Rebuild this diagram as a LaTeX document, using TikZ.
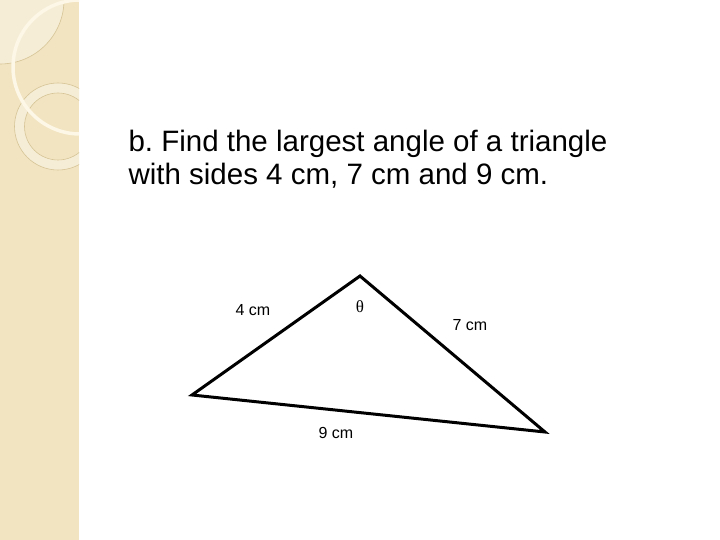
\documentclass[tikz,border=0pt]{standalone}
\usepackage{fontspec}
\setmainfont{Liberation Sans}
\newfontfamily\thetafont{Liberation Serif}
\frenchspacing
\definecolor{bandfill}{RGB}{242,228,193}
\definecolor{bandlight}{RGB}{246,237,214}
\definecolor{bandline}{RGB}{214,196,150}
\definecolor{bandcream}{RGB}{252,247,230}
\tikzset{
  side/.style = {font=\fontsize{16}{18}\selectfont},
  heading/.style = {anchor=base west, font=\fontsize{29.5}{33}\selectfont},
}
\begin{document}
\begin{tikzpicture}[x=1pt, y=-1pt]
	\useasboundingbox (0,0) rectangle (720,540);
	\fill[white] (0,0) rectangle (720,540);

	% left band
	\begin{scope}
		\clip (0,0) rectangle (79,540);
		\fill[bandfill] (0,0) rectangle (79,540);
		\filldraw[fill=bandlight, draw=bandline, line width=0.6pt] (0,0) circle (64);
		\draw[bandline, line width=0.6pt, fill=bandlight, even odd rule]
			(58,126.5) circle (43.5) (58,126.5) circle (33.5);
		\draw[bandcream, line width=3.5pt] (80,67) circle (67);
	\end{scope}

	\node (line1) [heading] at (125,152) {b. Find the largest angle of a triangle};
	\node (line2) [heading] at (125,185) {with sides 4 cm, 7 cm and 9 cm.};

	\coordinate (A) at (192,395);
	\coordinate (B) at (360,276);
	\coordinate (C) at (545,432);
	\draw[line width=3pt] (A) -- (B) -- (C) -- cycle;

	\node (ab) [side] at (253,310) {4 cm};
	\node (bc) [side] at (470,325) {7 cm};
	\node (ca) [side] at (336,433) {9 cm};
	\node (theta) [font=\thetafont\fontsize{17}{19}\selectfont] at (360,307) {θ};

\end{tikzpicture}
\end{document}
